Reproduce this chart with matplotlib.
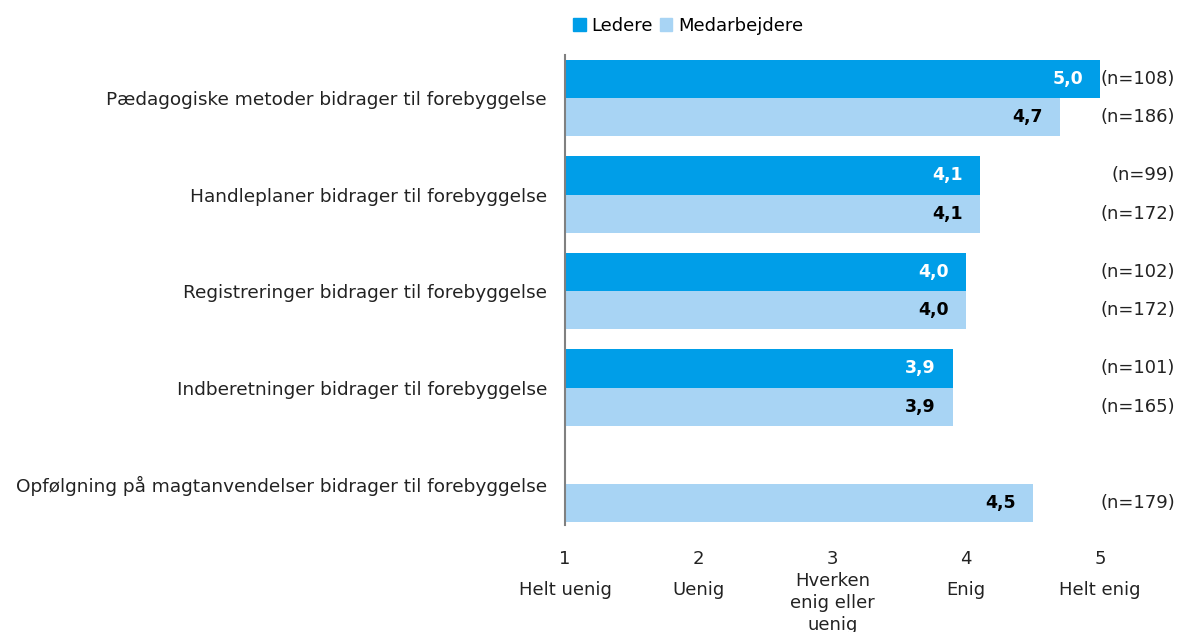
import matplotlib
matplotlib.use("Agg")
import matplotlib.pyplot as plt
import matplotlib.transforms as mtransforms
from matplotlib.patches import Patch

# data
categories = [
    "Pædagogiske metoder bidrager til forebyggelse",
    "Handleplaner bidrager til forebyggelse",
    "Registreringer bidrager til forebyggelse",
    "Indberetninger bidrager til forebyggelse",
    "Opfølgning på magtanvendelser bidrager til forebyggelse",
]
ledere = [5.0, 4.1, 4.0, 3.9, None]
medarbejdere = [4.7, 4.1, 4.0, 3.9, 4.5]
n_ledere = [108, 99, 102, 101, None]
n_medarbejdere = [186, 172, 172, 165, 179]
scale_ticks = [1, 2, 3, 4, 5]
scale_labels = ["Helt uenig", "Uenig", "Hverken\nenig eller\nuenig", "Enig", "Helt enig"]

c_led = "#009EE8"
c_med = "#A8D4F4"
fs = 13
txt = "#222222"

W, H = 1178, 632
fig = plt.figure(figsize=(W / 100, H / 100), dpi=100)
ax = fig.add_axes([565 / W, 1 - 525 / H, (1100 - 565) / W, (525 - 55) / H])

h = 0.394
for i, cat in enumerate(categories):
    if ledere[i] is not None:
        ax.barh(i - h / 2, ledere[i] - 1, left=1, height=h, color=c_led, clip_on=False)
        ax.annotate(f"{ledere[i]:.1f}".replace(".", ","), (ledere[i], i - h / 2),
                    xytext=(-17, 0), textcoords="offset pixels", ha="right", va="center",
                    color="white", fontweight="bold", fontsize=12.5)
    ax.barh(i + h / 2, medarbejdere[i] - 1, left=1, height=h, color=c_med, clip_on=False)
    ax.annotate(f"{medarbejdere[i]:.1f}".replace(".", ","), (medarbejdere[i], i + h / 2),
                xytext=(-17, 0), textcoords="offset pixels", ha="right", va="center",
                color="black", fontweight="bold", fontsize=12.5)
    # category label
    ax.annotate(cat, (1, i), xytext=(-18, -2), textcoords="offset pixels",
                ha="right", va="center", fontsize=13.3, color=txt)

# n labels at right edge
tr = mtransforms.blended_transform_factory(fig.transFigure, ax.transData)
for i in range(len(categories)):
    if n_ledere[i] is not None:
        fig.text(1175 / W, i - h / 2, f"(n={n_ledere[i]})", transform=tr,
                 ha="right", va="center", fontsize=fs, color=txt)
    fig.text(1175 / W, i + h / 2, f"(n={n_medarbejdere[i]})", transform=tr,
             ha="right", va="center", fontsize=fs, color=txt)

ax.set_xlim(1, 5)
ax.set_ylim((525 - 98) / 96.5, (55 - 98) / 96.5)
for s in ["top", "right", "bottom"]:
    ax.spines[s].set_visible(False)
ax.spines["left"].set_color("#808080")
ax.spines["left"].set_linewidth(1.5)
ax.set_yticks([])
ax.set_xticks(scale_ticks)
ax.set_xticklabels([str(t) for t in scale_ticks], fontsize=fs, color=txt)
ax.tick_params(axis="x", length=0, pad=18)

# scale labels under the tick numbers
trx = mtransforms.blended_transform_factory(ax.transData, fig.transFigure)
for t, lab in zip(scale_ticks, scale_labels):
    y = 603 if "\n" in lab else 590
    fig.text(t, 1 - y / H, lab, transform=trx, ha="center", va="center",
             fontsize=fs, color=txt, linespacing=1.25)

handles = [Patch(color=c_led, label="Ledere"), Patch(color=c_med, label="Medarbejdere")]
fig.legend(handles=handles, loc="center", bbox_to_anchor=(688 / W, 1 - 26 / H), ncol=2,
           frameon=False, fontsize=fs, handlelength=0.7, handleheight=0.7,
           handletextpad=0.3, columnspacing=0.4)

fig.savefig("out.png", dpi=100)
